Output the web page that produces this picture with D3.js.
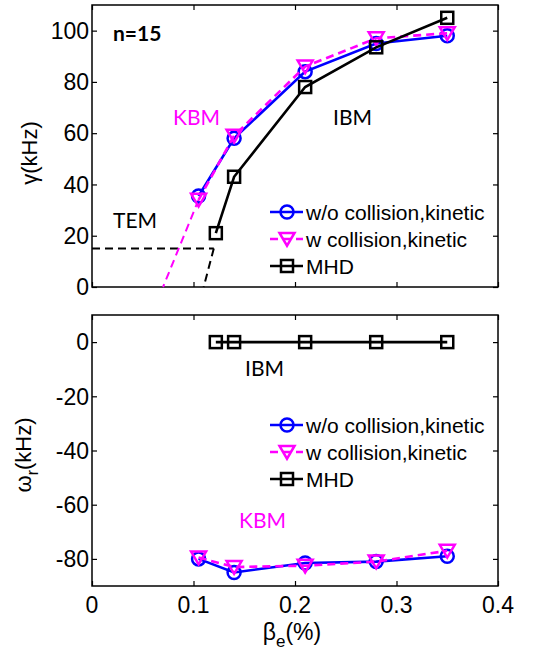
<!DOCTYPE html>
<html>
<head>
<meta charset="utf-8">
<script src="https://d3js.org/d3.v7.min.js"></script>
<style>
  body { margin: 0; background: #fff; }
  svg text { font-family: "Liberation Sans", Arial, sans-serif; }
  .note { font-family: Lato, "Open Sans", sans-serif; }
</style>
</head>
<body>
<div id="chart"></div>
<script>
// beta_e (%) for kinetic runs and MHD runs
var betaKin = [0.105, 0.14, 0.21, 0.28, 0.35];
var betaMhd = [0.122, 0.14, 0.21, 0.28, 0.35];

// growth rate gamma (kHz)
var gammaNoColl = [35.5, 58, 84, 95, 98];
var gammaColl   = [34, 59, 86, 97, 99];
var gammaMhd    = [21, 43, 78, 93.5, 105];

// real frequency omega_r (kHz)
var omegaNoColl = [-80, -85, -81.5, -81, -79];
var omegaColl   = [-79.5, -83, -82.5, -81, -77];
var omegaMhd    = [0, 0, 0, 0, 0];

// extrapolation guides (beta, gamma)
var tePlateau = [[0, 15], [0.12, 15]];
var mhdExtrap = [[0.12, 15], [0.110, 0]];
var kbmExtrap = [[0.105, 34], [0.070, 0]];

var xTicks = [0, 0.1, 0.2, 0.3, 0.4];
var gTicks = [0, 20, 40, 60, 80, 100];
var wTicks = [-80, -60, -40, -20, 0];

var legendNames = ["w/o collision,kinetic", "w collision,kinetic", "MHD"];

var W = 550, H = 655;
var svg = d3.select("#chart").append("svg")
    .attr("width", W).attr("height", H);

var x = d3.scaleLinear().domain([0, 0.4]).range([92, 498]);
var yTop = d3.scaleLinear().domain([0, 110]).range([287, 5]);
var yBot = d3.scaleLinear().domain([-90, 10]).range([586, 315]);

var blue = "#0000ff", mag = "#ff00ff", blk = "#000";

function drawFrame(y, yt, showX) {
    var g = svg.append("g");
    var x0 = x.range()[0], x1 = x.range()[1];
    var y0 = y.range()[0], y1 = y.range()[1];
    g.append("rect")
        .attr("x", x0).attr("y", y1)
        .attr("width", x1 - x0).attr("height", y0 - y1)
        .attr("fill", "none").attr("stroke", blk).attr("stroke-width", 1.5);

    // inward ticks on all four sides, matlab style
    g.append("g").attr("transform", "translate(0," + y0 + ")")
        .call(d3.axisTop(x).tickValues(xTicks).tickSize(5).tickFormat(""))
        .call(s => s.select(".domain").remove());
    g.append("g").attr("transform", "translate(0," + y1 + ")")
        .call(d3.axisBottom(x).tickValues(xTicks).tickSize(5).tickFormat(""))
        .call(s => s.select(".domain").remove());
    g.append("g").attr("transform", "translate(" + x0 + ",0)")
        .call(d3.axisRight(y).tickValues(yt).tickSize(5).tickFormat(""))
        .call(s => s.select(".domain").remove());
    g.append("g").attr("transform", "translate(" + x1 + ",0)")
        .call(d3.axisLeft(y).tickValues(yt).tickSize(5).tickFormat(""))
        .call(s => s.select(".domain").remove());
    g.selectAll(".tick line").attr("stroke-width", 1.2);

    g.selectAll("text.ylab").data(yt).enter().append("text")
        .attr("x", x0 - 3).attr("y", d => y(d))
        .attr("dy", "0.36em").attr("text-anchor", "end")
        .attr("font-size", 23).text(d => d);

    if (showX) {
        g.selectAll("text.xlab").data(xTicks).enter().append("text")
            .attr("x", d => x(d)).attr("y", y0 + 27)
            .attr("text-anchor", "middle")
            .attr("font-size", 23).text(d => d);
    }
}

function marker(g, type, cx, cy, color) {
    if (type == "circle") {
        g.append("circle").attr("cx", cx).attr("cy", cy).attr("r", 6.5)
            .attr("fill", "none").attr("stroke", color).attr("stroke-width", 2.5);
    } else if (type == "tri") {
        var s = 7.5;
        g.append("path")
            .attr("d", "M" + (cx - s) + "," + (cy - s * 0.8) + "L" + (cx + s) + "," + (cy - s * 0.8) + "L" + cx + "," + (cy + s * 0.9) + "Z")
            .attr("fill", "none").attr("stroke", color).attr("stroke-width", 2.5);
    } else {
        g.append("rect").attr("x", cx - 6).attr("y", cy - 6)
            .attr("width", 12).attr("height", 12)
            .attr("fill", "none").attr("stroke", color).attr("stroke-width", 2.5);
    }
}

function series(y, xs, ys, color, type, dashed) {
    var g = svg.append("g");
    var pts = xs.map((d, i) => [d, ys[i]]);
    g.append("path")
        .attr("d", d3.line().x(d => x(d[0])).y(d => y(d[1]))(pts))
        .attr("fill", "none").attr("stroke", color).attr("stroke-width", 2.6)
        .attr("stroke-dasharray", dashed ? "8,5" : null);
    pts.forEach(p => marker(g, type, x(p[0]), y(p[1]), color));
}

function guide(y, pts, color) {
    svg.append("path")
        .attr("d", d3.line().x(d => x(d[0])).y(d => y(d[1]))(pts))
        .attr("fill", "none").attr("stroke", color).attr("stroke-width", 2)
        .attr("stroke-dasharray", "8,5");
}

function legend(ly) {
    var styles = [[blue, "circle", false], [mag, "tri", true], [blk, "square", false]];
    styles.forEach(function(s, i) {
        var yy = ly + i * 27;
        var g = svg.append("g");
        g.append("line").attr("x1", 270).attr("x2", 303).attr("y1", yy).attr("y2", yy)
            .attr("stroke", s[0]).attr("stroke-width", 2.5)
            .attr("stroke-dasharray", s[2] ? "8,5" : null);
        marker(g, s[1], 287, yy, s[0]);
        g.append("text").attr("x", 306).attr("y", yy).attr("dy", "0.36em")
            .attr("font-size", 21).text(legendNames[i]);
    });
}

// ---- top panel: growth rate
drawFrame(yTop, gTicks, false);
guide(yTop, tePlateau, blk);
guide(yTop, mhdExtrap, blk);
guide(yTop, kbmExtrap, mag);
series(yTop, betaKin, gammaNoColl, blue, "circle", false);
series(yTop, betaKin, gammaColl, mag, "tri", true);
series(yTop, betaMhd, gammaMhd, blk, "square", false);
legend(212);

svg.append("text").attr("class", "note").attr("x", 113).attr("y", 41)
    .attr("font-size", 21).attr("font-weight", "bold").text("n=15");
svg.append("text").attr("class", "note").attr("x", 173).attr("y", 125)
    .attr("font-size", 21).attr("fill", mag).text("KBM");
svg.append("text").attr("class", "note").attr("x", 333).attr("y", 125)
    .attr("font-size", 21).text("IBM");
svg.append("text").attr("class", "note").attr("x", 113).attr("y", 228)
    .attr("font-size", 21).text("TEM");

var gl = svg.append("text").attr("font-size", 22)
    .attr("transform", "translate(37,153) rotate(-90)")
    .attr("text-anchor", "middle");
gl.append("tspan").text("γ");
gl.append("tspan").text("(kHz)");

// ---- bottom panel: real frequency
drawFrame(yBot, wTicks, true);
series(yBot, betaKin, omegaNoColl, blue, "circle", false);
series(yBot, betaKin, omegaColl, mag, "tri", true);
series(yBot, betaMhd, omegaMhd, blk, "square", false);
legend(425);

svg.append("text").attr("class", "note").attr("x", 245).attr("y", 376)
    .attr("font-size", 21).text("IBM");
svg.append("text").attr("class", "note").attr("x", 239).attr("y", 528)
    .attr("font-size", 21).attr("fill", mag).text("KBM");

var wl = svg.append("text").attr("font-size", 22)
    .attr("transform", "translate(31,455) rotate(-90)")
    .attr("text-anchor", "middle");
wl.append("tspan").text("ω");
wl.append("tspan").attr("font-size", 16).attr("dy", 7).text("r");
wl.append("tspan").attr("dy", -7).text("(kHz)");

var xl = svg.append("text").attr("font-size", 23)
    .attr("x", 292).attr("y", 640).attr("text-anchor", "middle");
xl.append("tspan").text("β");
xl.append("tspan").attr("font-size", 17).attr("dy", 7).text("e");
xl.append("tspan").attr("dy", -7).text("(%)");
</script>
</body>
</html>
